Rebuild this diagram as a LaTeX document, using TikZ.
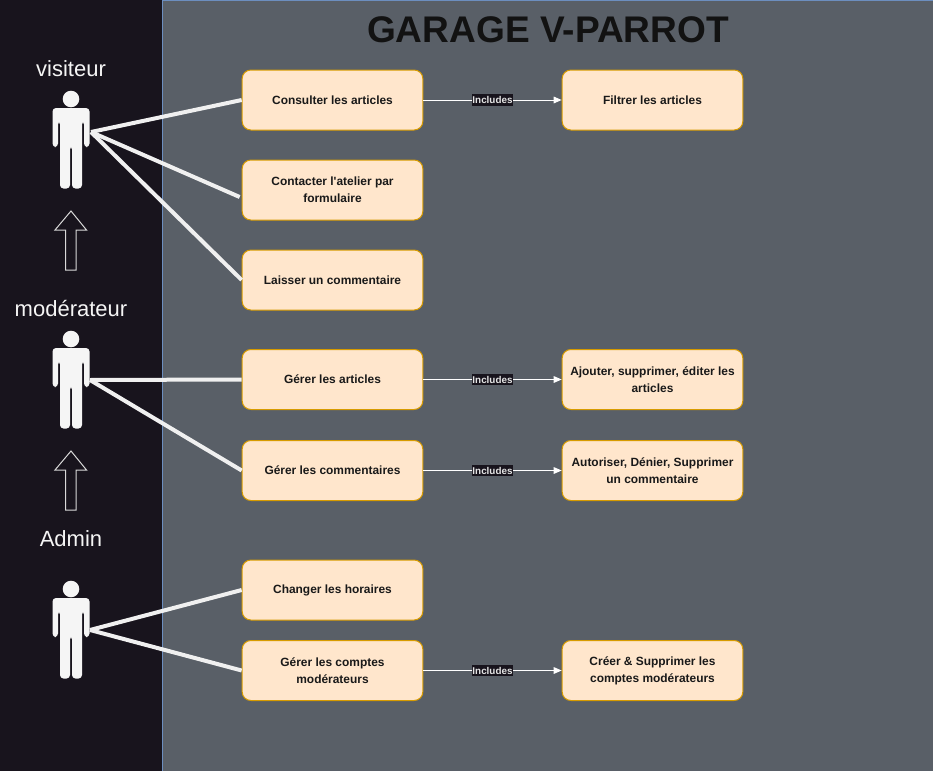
\documentclass[tikz,border=0pt]{standalone}
\usepackage{fontspec}
\setmainfont{Liberation Sans}
\newfontfamily\quotefont{Liberation Sans}
\usetikzlibrary{arrows.meta}
\definecolor{darkbg}{HTML}{18141D}
\definecolor{slatebg}{HTML}{595F67}
\definecolor{paneline}{HTML}{6C8EBF}
\definecolor{boxfill}{HTML}{FFE6CC}
\definecolor{boxline}{HTML}{D79B00}
\definecolor{actorwhite}{HTML}{F5F5F5}
\definecolor{linkwhite}{HTML}{F0F0F0}
\definecolor{titleink}{HTML}{121212}
\newcommand{\actorfig}[1]{%
  \begin{scope}[yshift=#1*-0.75pt]
    \fill[actorwhite] (71,99) circle[radius=8.3];
    \fill[actorwhite,rounded corners=2.6pt]
      (52.5,147) -- (52.5,108) -- (89.5,108) -- (89.5,147) -- (84,147) -- (84,121) -- (82,121)
      -- (82,188.5) -- (72,188.5) -- (72,146) -- (70,146) -- (70,188.5) -- (60,188.5) -- (60,121)
      -- (58,121) -- (58,147) -- cycle;
  \end{scope}}
\newcommand{\uparrowfig}[1]{%
  \draw[white!85!black,line width=0.75pt,yshift=#1*-0.75pt]
    (71,211) -- (86.5,230) -- (76,230) -- (76,270) -- (65.5,270) -- (65.5,230) -- (55,230) -- cycle;}
\tikzset{
  usecase/.style={draw=boxline,fill=boxfill,rounded corners=6.5pt,line width=0.75pt,
    minimum width=135.5pt,minimum height=45pt,inner sep=1pt,align=center,
    font=\fontsize{8.95}{12.6}\selectfont\bfseries,text=black!90},
  actorlabel/.style={text=actorwhite,font=\fontsize{16.5}{20}\selectfont,inner sep=0pt},
  link/.style={draw=linkwhite,line width=3pt},
  incl/.style={draw=white,line width=0.75pt,-{Triangle[length=6pt,width=5pt,fill=white]}},
  incltag/.style={fill=darkbg,text=white!90!black,font=\fontsize{7.4}{9}\selectfont\bfseries,
    inner xsep=0.4pt,inner ysep=1.6pt}
}
\begin{document}
\begin{tikzpicture}[x=0.75pt,y=-0.75pt]
\useasboundingbox (0,0) rectangle (933,771);
\fill[darkbg] (0,0) rectangle (163,771);
\fill[slatebg] (163,0) rectangle (933,771);
\draw[paneline,line width=0.75pt] (162.5,771) -- (162.5,0.5) -- (933,0.5);

\node[font=\fontsize{27.8}{32}\selectfont\bfseries,text=titleink,inner sep=0pt] (title) at (548,30) {GARAGE V-PARROT};

\node[actorlabel] (lv) at (71,69) {visiteur};
\node[actorlabel] (lm) at (71,309) {modérateur};
\node[actorlabel] (la) at (71,539) {Admin};

\actorfig{0}
\actorfig{240}
\actorfig{490}
\uparrowfig{0}
\uparrowfig{240}

\coordinate (av) at (91,132);
\coordinate (am) at (90,380);
\coordinate (aa) at (90,630);

\node[usecase] (c1) at (332.5,100) {Consulter les articles};
\node[usecase] (c2) at (332.5,190) {Contacter l{\quotefont\bfseries '}atelier par\\formulaire};
\node[usecase] (c3) at (332.5,280) {Laisser un commentaire};
\node[usecase] (g1) at (332.5,379.5) {Gérer les articles};
\node[usecase] (g2) at (332.5,470.5) {Gérer les commentaires};
\node[usecase] (h1) at (332.5,590) {Changer les horaires};
\node[usecase] (h2) at (332.5,670.5) {Gérer les comptes\\modérateurs};

\node[usecase] (f1) at (652.5,100) {Filtrer les articles};
\node[usecase] (f2) at (652.5,379.5) {Ajouter, supprimer, éditer les\\articles};
\node[usecase] (f3) at (652.5,470.5) {Autoriser, Dénier, Supprimer\\un commentaire};
\node[usecase] (f4) at (652.5,670.5) {Créer \& Supprimer les\\comptes modérateurs};

\coordinate (c2in) at ([yshift=-5.25pt,xshift=-1.5pt]c2.west);

\draw[link] (c1.west) -- (av);
\draw[link] (c2in) -- (av);
\draw[link] (c3.west) -- (av);
\draw[link] (g1.west) -- (am);
\draw[link] (g2.west) -- (am);
\draw[link] (h1.west) -- (aa);
\draw[link] (h2.west) -- (aa);

\foreach \a/\b in {c1/f1,g1/f2,g2/f3,h2/f4}{
  \draw[incl] (\a.east) -- node[incltag] {Includes} (\b.west);
}
\end{tikzpicture}
\end{document}
